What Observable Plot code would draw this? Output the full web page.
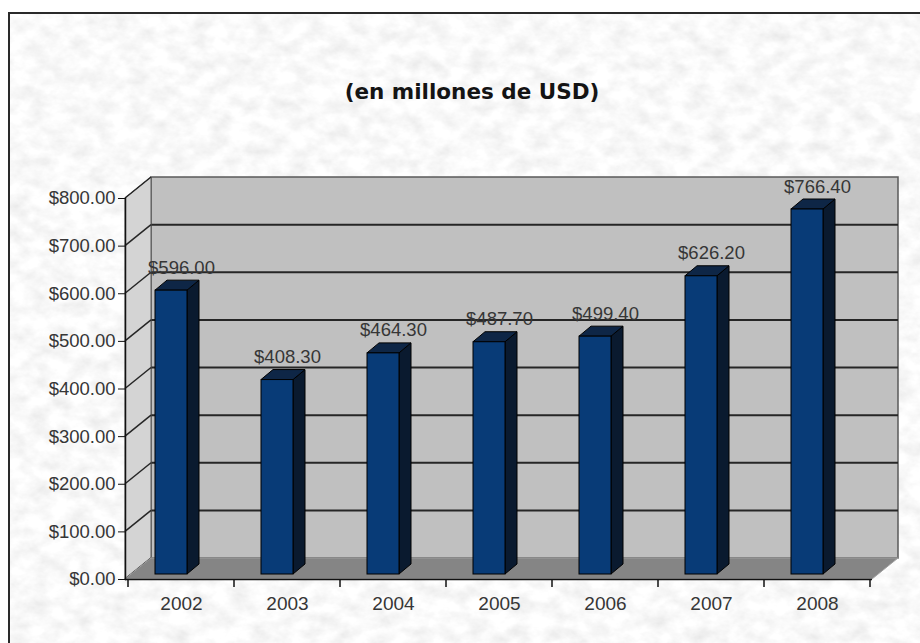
<!DOCTYPE html>
<html>
<head>
<meta charset="utf-8">
<script src="https://cdn.jsdelivr.net/npm/d3@7"></script>
<script src="https://cdn.jsdelivr.net/npm/@observablehq/plot@0.6"></script>
<style>
  html, body { margin: 0; padding: 0; background: #fff; }
  #wrap { position: relative; width: 920px; height: 643px; overflow: hidden; }
  #bg { position: absolute; left: 8px; top: 12px; width: 912px; height: 631px; border-left: 2px solid #2a2a2a; border-top: 2px solid #2a2a2a; box-sizing: border-box; }
  #chart { position: absolute; left: 0; top: 0; }
</style>
</head>
<body>
<div id="wrap">
  <svg id="bg" width="912" height="631">
    <defs>
      <filter id="marble" x="0" y="0" width="100%" height="100%">
        <feTurbulence type="fractalNoise" baseFrequency="0.05 0.07" numOctaves="4" seed="7" result="n"/>
        <feColorMatrix in="n" type="matrix" values="0.3 0 0 0 0.8  0.3 0 0 0 0.8  0.3 0 0 0 0.8  0 0 0 0 1"/>
      </filter>
    </defs>
    <rect width="912" height="631" filter="url(#marble)"/>
  </svg>
  <div id="chart"></div>
</div>
<script>
// ---- data ----
const years = ["2002", "2003", "2004", "2005", "2006", "2007", "2008"];
const values = [596.00, 408.30, 464.30, 487.70, 499.40, 626.20, 766.40];
const yTicks = [0, 100, 200, 300, 400, 500, 600, 700, 800];
const titleText = "(en millones de USD)";

const data = years.map((year, i) => ({year, value: values[i]}));

// ---- style constants ----
const W = 920, H = 643;
const ML = 125, MR = 48, MT = 198, MB = 64;
const WALL_DX = 26, WALL_DY = -21;      // depth of the back wall
const BAR_DX = -10, BAR_DY = -5;        // bar front-face placement
const BAR_DEPTH_X = 12, BAR_DEPTH_Y = -10;
const COL_FRONT = "#083b77", COL_SIDE = "#0a1a2f", COL_TOP = "#0e2646";
const fmt = d3.format("$.2f");

function bandwidthOf(x) {
  if (typeof x.bandwidth === "function") return x.bandwidth();
  const step = x(years[1]) - x(years[0]);
  return step * 0.3;
}

// walls, floor, diagonal grid on the side wall and category ticks
function chrome(index, scales, values, dims) {
  const y = scales.y, x = scales.x;
  const g = d3.create("svg:g");
  const l = dims.marginLeft, r = dims.width - dims.marginRight;
  const y0 = y(0), yTop = y(800);
  // back wall
  g.append("rect")
    .attr("x", l + WALL_DX).attr("y", yTop + WALL_DY)
    .attr("width", r - l).attr("height", y0 - yTop)
    .attr("fill", "#c0c0c0").attr("stroke", "#5a5a5a").attr("stroke-width", 1.5);
  // gridlines on back wall
  for (const t of yTicks.slice(1, -1)) {
    g.append("line")
      .attr("x1", l + WALL_DX).attr("x2", r + WALL_DX)
      .attr("y1", y(t) + WALL_DY).attr("y2", y(t) + WALL_DY)
      .attr("stroke", "#262626").attr("stroke-width", 2);
  }
  // side wall
  g.append("path")
    .attr("d", `M${l},${y0}L${l},${yTop}L${l + WALL_DX},${yTop + WALL_DY}L${l + WALL_DX},${y0 + WALL_DY}Z`)
    .attr("fill", "#d4d4d4").attr("stroke", "#5a5a5a").attr("stroke-width", 1);
  for (const t of yTicks) {
    g.append("line")
      .attr("x1", l).attr("y1", y(t))
      .attr("x2", l + WALL_DX).attr("y2", y(t) + WALL_DY)
      .attr("stroke", "#262626").attr("stroke-width", 1.5);
  }
  // floor
  g.append("path")
    .attr("d", `M${l},${y0}L${r},${y0}L${r + WALL_DX},${y0 + WALL_DY}L${l + WALL_DX},${y0 + WALL_DY}Z`)
    .attr("fill", "#858585").attr("stroke", "#a0a0a0").attr("stroke-width", 1);
  // category ticks at band boundaries
  const step = x(years[1]) - x(years[0]);
  const bw = bandwidthOf(x);
  const bounds = years.map(yr => x(yr) + bw / 2 - step / 2);
  bounds.push(x(years[years.length - 1]) + bw / 2 + step / 2);
  for (const bx of bounds) {
    g.append("line")
      .attr("x1", bx).attr("x2", bx).attr("y1", y0).attr("y2", y0 + 8)
      .attr("stroke", "#111").attr("stroke-width", 1.5);
  }
  return g.node();
}

// side and top faces of the bars
function barFaces(index, scales) {
  const y = scales.y, x = scales.x;
  const bw = bandwidthOf(x);
  const g = d3.create("svg:g").attr("stroke", "#000").attr("stroke-width", 1).attr("stroke-linejoin", "round");
  for (const d of data) {
    const x0 = x(d.year) + BAR_DX, x1 = x0 + bw;
    const yt = y(d.value) + BAR_DY, yb = y(0) + BAR_DY;
    g.append("path")
      .attr("d", `M${x1},${yb}L${x1},${yt}L${x1 + BAR_DEPTH_X},${yt + BAR_DEPTH_Y}L${x1 + BAR_DEPTH_X},${yb + BAR_DEPTH_Y}Z`)
      .attr("fill", COL_SIDE);
    g.append("path")
      .attr("d", `M${x0},${yt}L${x1},${yt}L${x1 + BAR_DEPTH_X},${yt + BAR_DEPTH_Y}L${x0 + BAR_DEPTH_X},${yt + BAR_DEPTH_Y}Z`)
      .attr("fill", COL_TOP);
  }
  return g.node();
}

const chart = Plot.plot({
  width: W,
  height: H,
  marginLeft: ML,
  marginRight: MR,
  marginTop: MT,
  marginBottom: MB,
  style: {background: "transparent", fontFamily: "'Liberation Sans', Arial, sans-serif", fontSize: "18px", color: "#2b2b2b", overflow: "visible"},
  x: {domain: years, paddingInner: 0.7, paddingOuter: 0.35, label: null},
  y: {domain: [0, 800], label: null},
  marks: [
    chrome,
    barFaces,
    Plot.barY(data, {x: "year", y: "value", fill: COL_FRONT, stroke: "#000", strokeWidth: 1, dx: BAR_DX, dy: BAR_DY}),
    Plot.text(data, {x: "year", y: "value", text: d => fmt(d.value), dy: -22, lineAnchor: "bottom", fontSize: 18.5, fill: "#363636"}),
    Plot.ruleY([0], {stroke: "#111", strokeWidth: 1.5}),
    Plot.frame({anchor: "left", stroke: "#111", strokeWidth: 1.5}),
    Plot.axisY({ticks: yTicks, tickFormat: fmt, tickSize: 7, tickPadding: 3, fontSize: 18.5, label: null, stroke: "#111", fill: "#363636"}),
    Plot.axisX({tickSize: 0, tickPadding: 17, fontSize: 19, label: null, fill: "#363636"}),
    Plot.text([titleText], {frameAnchor: "top", dx: -27, dy: -106, lineAnchor: "middle", fontSize: 21.5, fontWeight: "bold", fontFamily: "'DejaVu Sans', Verdana, sans-serif", fill: "#141414"})
  ]
});
document.getElementById("chart").appendChild(chart);
</script>
</body>
</html>
